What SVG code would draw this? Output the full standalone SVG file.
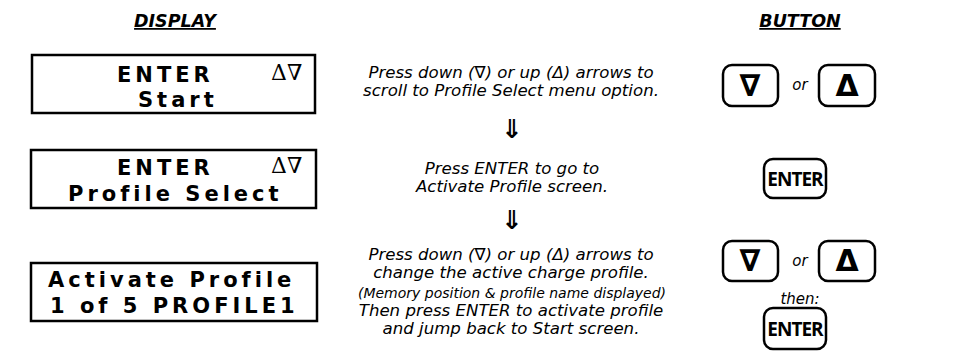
<svg xmlns="http://www.w3.org/2000/svg" width="962" height="354" viewBox="0 0 962 354">
<style>
.hdr{font-family:"DejaVu Sans",sans-serif;font-weight:bold;font-style:italic;font-size:17.5px;text-anchor:middle;text-decoration:underline;fill:#000}
.lcd{fill:#fff;stroke:#000;stroke-width:2.5}
.lt{font-family:"DejaVu Sans",sans-serif;font-weight:bold;font-size:21px;letter-spacing:4px;fill:#000}
.sym{font-family:"DejaVu Serif",serif;font-size:22px;fill:#000}
.ins{font-family:"DejaVu Sans",sans-serif;font-style:italic;font-size:16.6px;text-anchor:middle;fill:#000}
.sm{font-size:14px}
.arr{font-family:"DejaVu Sans",sans-serif;font-size:26px;text-anchor:middle;font-weight:bold}
.btn{fill:#fff;stroke:#000;stroke-width:2.5}
.bsym{font-family:"DejaVu Sans",sans-serif;font-weight:bold;font-size:30px;text-anchor:middle;fill:#000}
.ent{font-family:"Open Sans","DejaVu Sans",sans-serif;font-weight:bold;font-size:19px;text-anchor:middle;letter-spacing:-1px;fill:#000}
.or{font-family:"DejaVu Sans",sans-serif;font-style:italic;font-size:15px;text-anchor:middle;fill:#000}
</style>
<text class="hdr" x="175" y="27">DISPLAY</text>
<text class="hdr" x="800" y="27">BUTTON</text>

<g id="display1">
<rect class="lcd" x="32" y="55" width="283" height="58"/>
<text class="lt" x="117" y="82">ENTER</text>
<text class="sym" x="271" y="80">Δ∇</text>
<text class="lt" x="138" y="107">Start</text>
</g>
<g id="display2">
<rect class="lcd" x="31" y="150" width="285" height="58"/>
<text class="lt" x="117" y="175">ENTER</text>
<text class="sym" x="271" y="173">Δ∇</text>
<text class="lt" x="68" y="201">Profile Select</text>
</g>
<g id="display3">
<rect class="lcd" x="31" y="263" width="286" height="58"/>
<text class="lt" x="48" y="287">Activate Profile</text>
<text class="lt" x="50" y="313">1 of 5 PROFILE1</text>
</g>

<g id="step1">
<text class="ins" x="511" y="78">Press down (∇) or up (Δ) arrows to</text>
<text class="ins" x="511" y="96">scroll to Profile Select menu option.</text>
</g>
<g id="step2">
<text class="ins" x="512" y="174">Press ENTER to go to</text>
<text class="ins" x="512" y="192">Activate Profile screen.</text>
</g>
<g id="step3">
<text class="ins" x="511" y="260">Press down (∇) or up (Δ) arrows to</text>
<text class="ins" x="511" y="278">change the active charge profile.</text>
<text class="ins sm" x="512" y="298">(Memory position &amp; profile name displayed)</text>
<text class="ins" x="511" y="316">Then press ENTER to activate profile</text>
<text class="ins" x="511" y="334">and jump back to Start screen.</text>
</g>

<g id="connectors">
<text class="arr" x="512" y="138">⇓</text>
<text class="arr" x="512" y="229">⇓</text>
</g>

<g id="buttons1">
<rect class="btn" x="723" y="65" width="55" height="41" rx="9"/>
<text class="bsym" x="750" y="96">∇</text>
<text class="or" x="800" y="90">or</text>
<rect class="btn" x="819" y="65" width="56" height="41" rx="9"/>
<text class="bsym" x="847" y="96">Δ</text>
</g>
<g id="buttons2">
<rect class="btn" x="764" y="159" width="62" height="39" rx="9"/>
<text class="ent" x="795" y="186">ENTER</text>
</g>
<g id="buttons3">
<rect class="btn" x="723" y="241" width="55" height="40" rx="9"/>
<text class="bsym" x="750" y="271">∇</text>
<text class="or" x="800" y="266">or</text>
<rect class="btn" x="819" y="241" width="56" height="40" rx="9"/>
<text class="bsym" x="847" y="271">Δ</text>
<text class="or" x="800" y="304">then:</text>
<rect class="btn" x="764" y="308" width="62" height="41" rx="9"/>
<text class="ent" x="795" y="336">ENTER</text>
</g>
</svg>
